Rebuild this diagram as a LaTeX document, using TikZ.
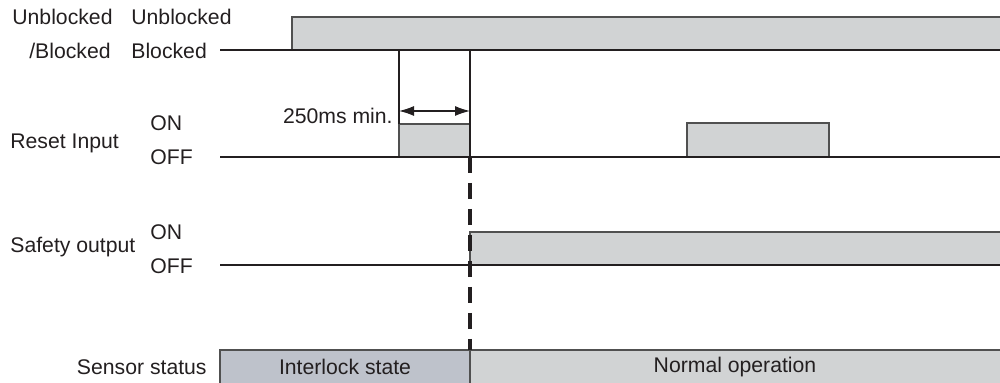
\documentclass[tikz,border=0pt]{standalone}
\usepackage{fontspec}
\setmainfont{Liberation Sans}
\usetikzlibrary{arrows.meta}
\definecolor{sig}{HTML}{D1D3D4}
\definecolor{lock}{HTML}{BEC2CB}
\definecolor{edge}{HTML}{505050}
\definecolor{ink}{HTML}{231F20}
\tikzset{
  lbl/.style={inner sep=0pt, font=\fontsize{10.6}{12}\selectfont, text=ink},
  base/.style={draw=ink, line width=1pt},
  pulse/.style={fill=sig, draw=edge, line width=0.75pt},
  thin/.style={draw=ink, line width=0.6pt},
  dashln/.style={draw=ink, line width=1.6pt, dash pattern=on 8pt off 5pt, dash phase=0pt}
}
\begin{document}
\begin{tikzpicture}[x=0.5pt,y=-0.5pt]
\useasboundingbox (0,0) rectangle (1000,383);
% top signal
\path[pulse] (292,50) -- (292,17) -- (1002,17) -- (1002,50) -- cycle;
\draw[base] (220,50) -- (1000,50);
% reset pulses
\path[pulse] (399,157) -- (399,124) -- (470,124) -- (470,157) -- cycle;
\path[pulse] (687,157) -- (687,123) -- (829,123) -- (829,157) -- cycle;
\draw[base] (220,157) -- (1000,157);
% vertical markers
\draw[thin] (399,50) -- (399,124);
\draw[thin] (470,50) -- (470,157);
\coordinate (a1) at (399,111);
\coordinate (a2) at (470,111);
\draw[thin, {Latex[length=7.5pt,width=5pt]}-{Latex[length=7.5pt,width=5pt]}] (a1) -- (a2);
% safety output
\path[pulse] (470,265) -- (470,232) -- (1002,232) -- (1002,265) -- cycle;
\draw[base] (220,265) -- (1000,265);
% sensor status
\path[fill=lock, draw=edge, line width=0.75pt] (220,385) -- (220,350) -- (470,350) -- (470,385);
\path[fill=sig, draw=edge, line width=0.75pt] (470,385) -- (470,350) -- (1002,350) -- (1002,385);
% dashed line
\coordinate (d1) at (470,157);
\coordinate (d2) at (470,350);
\draw[dashln] (d1) -- (d2);
% labels
\node[lbl, anchor=west] (ub1) at (12,17) {Unblocked};
\node[lbl, anchor=west] (ub2) at (131,17) {Unblocked};
\node[lbl, anchor=east] (bl1) at (111,51) {/Blocked};
\node[lbl, anchor=west] (bl2) at (131,51) {Blocked};
\node[lbl, anchor=east] (ms) at (393,116) {250ms min.};
\node[lbl, anchor=west] (on1) at (150,123) {ON};
\node[lbl, anchor=west] (ri) at (10,143) {Reset Input};
\node[lbl, anchor=west] (off1) at (150,157) {OFF};
\node[lbl, anchor=west] (on2) at (150,232) {ON};
\node[lbl, anchor=west] (so) at (10,247) {Safety output};
\node[lbl, anchor=west] (off2) at (150,266) {OFF};
\node[lbl, anchor=east] (ss) at (207,367) {Sensor status};
\node[lbl] (il) at (345,367) {Interlock state};
\node[lbl] (no) at (735,367) {Normal operation};
\end{tikzpicture}
\end{document}
